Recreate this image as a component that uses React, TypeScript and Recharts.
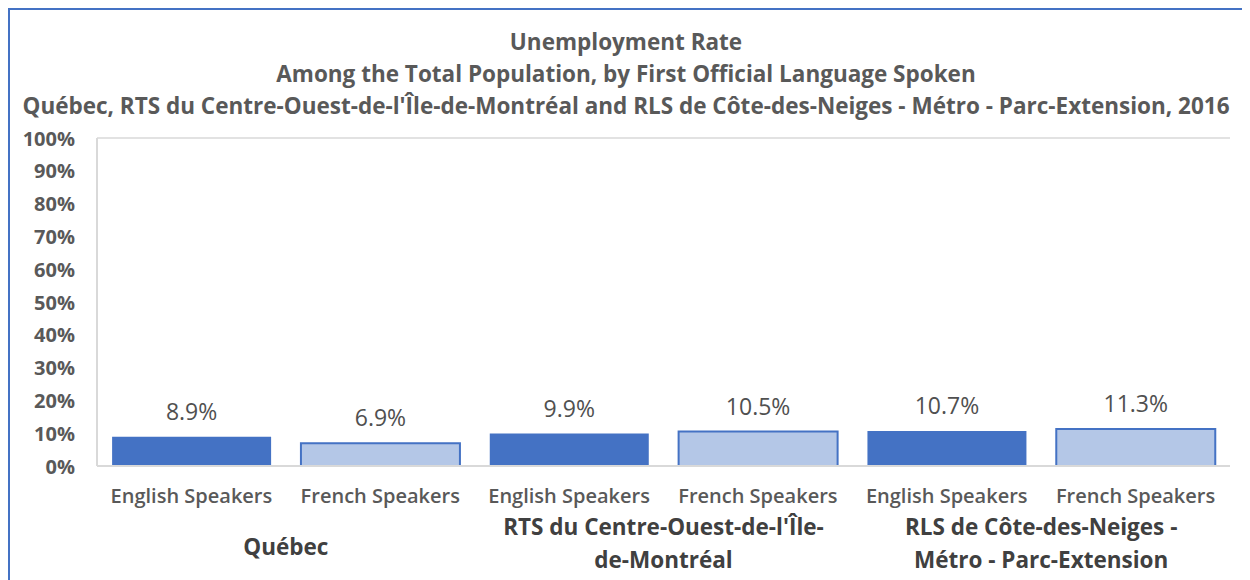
import { Bar, BarChart, CartesianGrid, Cell, LabelList, XAxis, YAxis } from "recharts";

const categories = ["English Speakers", "French Speakers", "English Speakers", "French Speakers", "English Speakers", "French Speakers"];
const groupLines = [["Québec"], ["RTS du Centre-Ouest-de-l'Île-", "de-Montréal"], ["RLS de Côte-des-Neiges -", "Métro - Parc-Extension"]];
const rates = [8.9, 6.9, 9.9, 10.5, 10.7, 11.3];
const yTicks = [0, 10, 20, 30, 40, 50, 60, 70, 80, 90, 100];
const titleLines = [
  "Unemployment Rate",
  "Among the Total Population, by First Official Language Spoken",
  "Québec, RTS du Centre-Ouest-de-l'Île-de-Montréal and RLS de Côte-des-Neiges - Métro - Parc-Extension, 2016",
];

const data = categories.map((label, i) => ({ key: `c${i}`, label, value: rates[i] }));

const W = 1232;
const H = 570;
const M = { top: 128, right: 12, bottom: 4, left: 0 };
const Y_W = 87;
const BAND = (W - M.left - M.right - Y_W) / categories.length;
const FONT = "'Open Sans', 'Noto Sans', sans-serif";
const DARK = "#4472c4";
const LIGHT = "#b4c7e7";

function CategoryTick({ x, y, index }: any) {
  const g = groupLines[Math.floor(index / 2)];
  const gx = x + BAND / 2;
  return (
    <g>
      <text x={x} y={y + 21} textAnchor="middle" dominantBaseline="central" fill="#595959" fontSize={20} fontWeight={600} fontFamily={FONT}>
        {data[index].label}
      </text>
      {index % 2 === 0 &&
        g.map((line, j) => (
          <text key={j} x={gx} y={g.length === 1 ? y + 72 : y + 52 + j * 33} textAnchor="middle" dominantBaseline="central" fill="#404040" fontSize={22.5} fontWeight={700} fontFamily={FONT}>
            {line}
          </text>
        ))}
    </g>
  );
}

function YTick({ x, y, payload }: any) {
  return (
    <text x={x} y={y} textAnchor="end" dominantBaseline="central" fill="#595959" fontSize={20} fontWeight={700} fontFamily={FONT}>
      {payload.value}%
    </text>
  );
}

export default function App() {
  return (
    <div style={{ position: "relative", width: W, height: H + 8, border: `2px solid ${DARK}`, background: "#fff" }}>
      <div style={{ position: "absolute", left: 0, top: 16, width: W, textAlign: "center", fontFamily: FONT, fontWeight: 700, fontSize: 22.5, color: "#595959", lineHeight: "32px" }}>
        {titleLines.map((t) => (
          <div key={t}>{t}</div>
        ))}
      </div>
      <BarChart width={W} height={H} data={data} margin={M} barCategoryGap="8%">
        <CartesianGrid vertical={false} stroke="#d9d9d9" strokeWidth={1.5} />
        <XAxis dataKey="key" tick={<CategoryTick />} tickLine={false} axisLine={{ stroke: "#d9d9d9", strokeWidth: 2 }} height={H - M.top - M.bottom - 328} interval={0} />
        <YAxis yAxisId="left" domain={[0, 100]} ticks={yTicks} tick={<YTick />} tickLine={false} axisLine={{ stroke: "#d9d9d9", strokeWidth: 2 }} width={Y_W} tickMargin={16} />
        <YAxis yAxisId="right" orientation="right" domain={[0, 100]} tick={false} tickLine={false} axisLine={{ stroke: "#d9d9d9", strokeWidth: 2 }} width={0} />
        <Bar yAxisId="left" dataKey="value" isAnimationActive={false}>
          {data.map((d, i) => (
            <Cell key={d.key} fill={i % 2 === 0 ? DARK : LIGHT} stroke={i % 2 === 0 ? "none" : DARK} strokeWidth={2} />
          ))}
          <LabelList dataKey="value" position="top" offset={17} formatter={(v: any) => `${v}%`} fill="#505050" fontSize={23} fontFamily={FONT} />
        </Bar>
      </BarChart>
    </div>
  );
}
